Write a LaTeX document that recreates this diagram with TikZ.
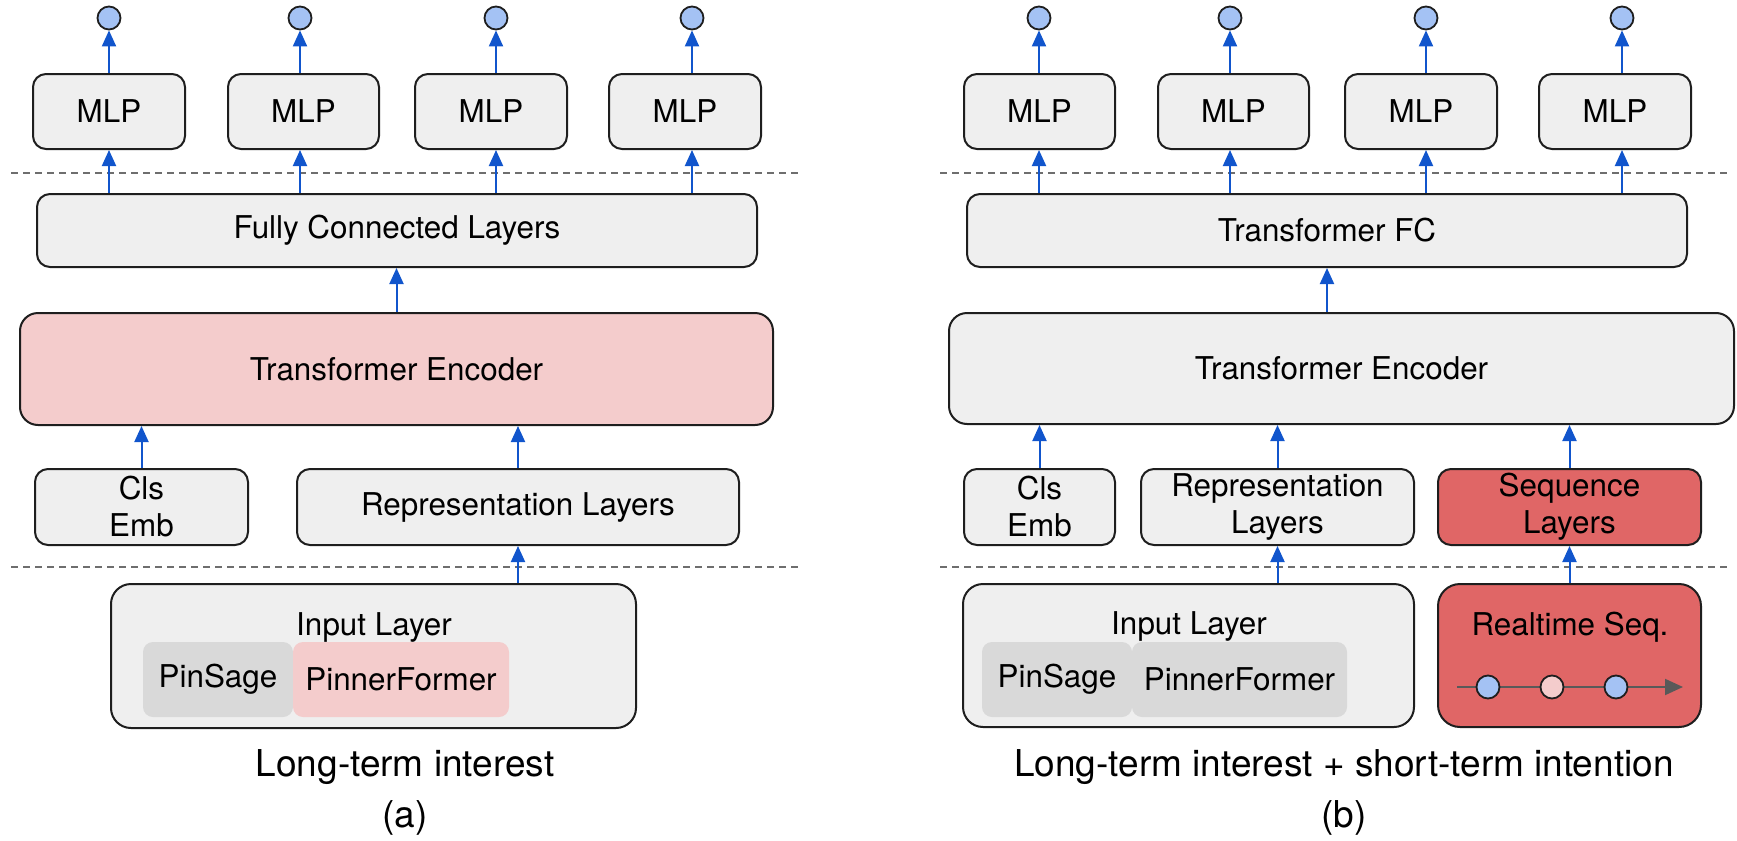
\documentclass[tikz,border=0pt]{standalone}
\usepackage{fontspec}
\setmainfont{TeX Gyre Heros}
\usetikzlibrary{arrows.meta}
\definecolor{boxfill}{HTML}{EFEFEF}
\definecolor{pinkfill}{HTML}{F4CCCC}
\definecolor{redfill}{HTML}{E06666}
\definecolor{innergray}{HTML}{D9D9D9}
\definecolor{cblue}{HTML}{A4C2F4}
\definecolor{arrblue}{HTML}{1155CC}
\definecolor{edge}{HTML}{1E1E1E}
\definecolor{dashgray}{HTML}{6E6E6E}
\definecolor{seqgray}{HTML}{595959}
\newcommand\bx[7]{\node[#6, minimum width={(#4-#2)*0.5pt}, minimum height={(#5-#3)*0.5pt}] (#1) at ({(#2+#4)/2},{(#3+#5)/2}) {#7};}
\newcommand\bxfont{\fontsize{15.7}{18.5}\selectfont}
\newcommand\capfont{\fontsize{18.5}{22}\selectfont}
\begin{document}
\begin{tikzpicture}[x=0.5pt,y=-0.5pt,
  box/.style={draw=edge, line width=1pt, fill=boxfill, rounded corners=6.5pt, inner sep=0pt, font=\bxfont, align=center},
  inner/.style={fill=innergray, rounded corners=5pt, inner sep=0pt, font=\bxfont},
  lbl/.style={font=\bxfont, inner sep=0pt},
  captext/.style={font=\capfont, inner sep=0pt},
  outc/.style={circle, draw=edge, line width=0.9pt, fill=cblue, minimum size=11.5pt, inner sep=0pt},
  arr/.style={draw=arrblue, line width=1pt, -{Triangle[length=8pt,width=7pt]}},
  sepline/.style={draw=dashgray, line width=0.8pt, dash pattern=on 3.5pt off 2.5pt},
  seqline/.style={draw=seqgray, line width=1pt, -{Triangle[length=9pt,width=8pt]}},
]
\useasboundingbox (0,0) rectangle (1737,841);

% ---------------- Left panel (a) ----------------
\coordinate (dA1s) at (11,173); \coordinate (dA1e) at (798,173);
\coordinate (dA2s) at (11,567); \coordinate (dA2e) at (798,567);
\draw[sepline] (dA1s) -- (dA1e);
\draw[sepline] (dA2s) -- (dA2e);

\bx{mlpA1}{33}{74}{185}{149}{box}{MLP}
\bx{mlpA2}{228}{74}{379}{149}{box}{MLP}
\bx{mlpA3}{415}{74}{567}{149}{box}{MLP}
\bx{mlpA4}{609}{74}{761}{149}{box}{MLP}
\node[outc] (oA1) at (109,18) {};
\node[outc] (oA2) at (300,18) {};
\node[outc] (oA3) at (496,18) {};
\node[outc] (oA4) at (692,18) {};
\bx{fcA}{37}{194}{757}{267}{box}{Fully Connected Layers}
\bx{teA}{20}{313}{773}{425}{box,fill=pinkfill,rounded corners=9pt}{Transformer Encoder}
\bx{clsA}{35}{469}{248}{545}{box}{Cls\\Emb}
\bx{repA}{297}{469}{739}{545}{box}{Representation Layers}
\bx{inA}{111}{584}{636}{728}{box,rounded corners=10pt}{}
\node[lbl] (inAt) at (374,627) {Input Layer};
\bx{psA}{143}{642}{293}{717}{inner}{PinSage}
\bx{pfA}{293}{642}{509}{717}{inner,fill=pinkfill}{PinnerFormer}

\foreach \i in {1,2,3,4}{
  \draw[arr] (mlpA\i.north -| oA\i) -- (oA\i.south);
  \draw[arr] (fcA.north -| oA\i) -- (mlpA\i.south -| oA\i);
}
\draw[arr] (teA.north) -- (fcA.south -| teA.north);
\draw[arr] (clsA.north) -- (clsA.north |- teA.south);
\draw[arr] (repA.north) -- (repA.north |- teA.south);
\draw[arr] (inA.north -| repA.north) -- (repA.south);

\node[captext] (capA) at (405,767) {Long-term interest};
\node[captext] (capAl) at (405,818) {(a)};

% ---------------- Right panel (b) ----------------
\coordinate (dB1s) at (940,173); \coordinate (dB1e) at (1729,173);
\coordinate (dB2s) at (940,567); \coordinate (dB2e) at (1729,567);
\draw[sepline] (dB1s) -- (dB1e);
\draw[sepline] (dB2s) -- (dB2e);

\bx{mlpB1}{964}{74}{1115}{149}{box}{MLP}
\bx{mlpB2}{1158}{74}{1309}{149}{box}{MLP}
\bx{mlpB3}{1345}{74}{1497}{149}{box}{MLP}
\bx{mlpB4}{1539}{74}{1691}{149}{box}{MLP}
\node[outc] (oB1) at (1039,18) {};
\node[outc] (oB2) at (1230,18) {};
\node[outc] (oB3) at (1426,18) {};
\node[outc] (oB4) at (1622,18) {};
\bx{fcB}{967}{194}{1687}{267}{box}{Transformer FC}
\bx{teB}{949}{313}{1734}{424}{box,rounded corners=9pt}{Transformer Encoder}
\bx{clsB}{964}{469}{1115}{545}{box}{Cls\\Emb}
\bx{repB}{1141}{469}{1414}{545}{box}{Representation\\Layers}
\bx{seqB}{1438}{469}{1701}{545}{box,fill=redfill}{Sequence\\Layers}
\bx{inB}{963}{584}{1414}{727}{box,rounded corners=10pt}{}
\node[lbl] (inBt) at (1189,626) {Input Layer};
\bx{psB}{982}{642}{1132}{717}{inner}{PinSage}
\bx{pfB}{1132}{642}{1347}{717}{inner}{PinnerFormer}
\bx{rtB}{1438}{584}{1701}{727}{box,fill=redfill,rounded corners=11pt}{}
\node[lbl] (rtBt) at (1570,627) {Realtime Seq.};
\coordinate (sq0) at (1457,687);
\coordinate (sq1) at (1683,687);
\draw[seqline] (sq0) -- (sq1);
\node[outc] (sc1) at (1488,687) {};
\node[outc,fill=pinkfill] (sc2) at (1552,687) {};
\node[outc] (sc3) at (1616,687) {};

\foreach \i in {1,2,3,4}{
  \draw[arr] (mlpB\i.north -| oB\i) -- (oB\i.south);
  \draw[arr] (fcB.north -| oB\i) -- (mlpB\i.south -| oB\i);
}
\draw[arr] (teB.north -| fcB.south) -- (fcB.south);
\draw[arr] (clsB.north) -- (clsB.north |- teB.south);
\draw[arr] (repB.north) -- (repB.north |- teB.south);
\draw[arr] (seqB.north) -- (seqB.north |- teB.south);
\draw[arr] (inB.north -| repB.north) -- (repB.south);
\draw[arr] (rtB.north -| seqB.north) -- (seqB.south);

\node[captext] (capB) at (1344,767) {Long-term interest + short-term intention};
\node[captext] (capBl) at (1344,818) {(b)};
\end{tikzpicture}
\end{document}
